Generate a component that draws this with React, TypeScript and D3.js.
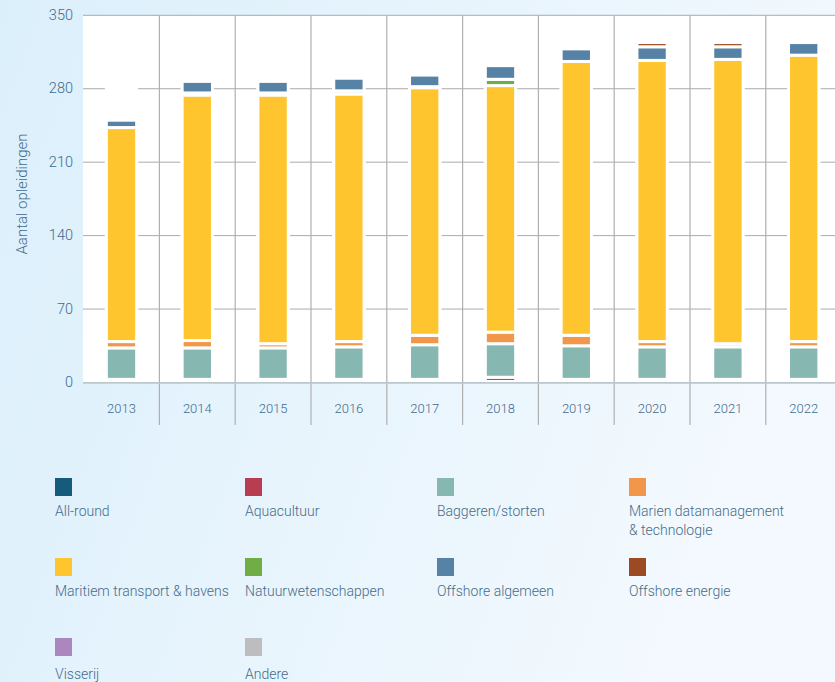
import React from 'react';
import * as d3 from 'd3';

const years = ['2013', '2014', '2015', '2016', '2017', '2018', '2019', '2020', '2021', '2022'];
const seriesNames = [
  'All-round',
  'Aquacultuur',
  'Baggeren/storten',
  'Marien datamanagement & technologie',
  'Maritiem transport & havens',
  'Natuurwetenschappen',
  'Offshore algemeen',
  'Offshore energie',
  'Visserij',
  'Andere',
];
const legendLines = [
  ['All-round'],
  ['Aquacultuur'],
  ['Baggeren/storten'],
  ['Marien datamanagement', '& technologie'],
  ['Maritiem transport & havens'],
  ['Natuurwetenschappen'],
  ['Offshore algemeen'],
  ['Offshore energie'],
  ['Visserij'],
  ['Andere'],
];
const seriesColors = [
  '#175b7a',
  '#b83d50',
  '#86b7b0',
  '#f2964c',
  '#fec52f',
  '#70ae45',
  '#5682a6',
  '#9b4a23',
  '#ac87bf',
  '#bdbdbf',
];

const allRound = [3, 3, 3, 3, 3, 1, 3, 3, 3, 3];
const aquacultuur = [0, 0, 0, 0, 0, 4, 0, 0, 0, 0];
const baggeren = [30, 30, 30, 31, 33, 32, 32, 31, 31, 31];
const marien = [6, 7, 4, 5, 9, 11, 10, 5, 3, 5];
const maritiem = [204, 234, 237, 236, 236, 235, 261, 268, 271, 273];
const natuur = [0, 2, 2, 3, 1, 6, 0, 0, 0, 0];
const offshoreAlgemeen = [7, 11, 11, 12, 11, 13, 12, 13, 12, 12];
const offshoreEnergie = [0, 0, 0, 0, 0, 0, 0, 4, 4, 0];
const visserij = [0, 0, 0, 0, 0, 0, 0, 0, 0, 0];
const andere = [0, 0, 0, 0, 0, 0, 0, 0, 0, 0];

const yTicks = [0, 70, 140, 210, 280, 350];

const W = 835;
const H = 682;
const plotLeft = 83;
const plotTop = 15.3;
const plotBottom = 382.5;

export default function App() {
  const seriesValues = [
    allRound, aquacultuur, baggeren, marien, maritiem,
    natuur, offshoreAlgemeen, offshoreEnergie, visserij, andere,
  ];
  const rows = years.map((yr, i) => {
    const r: any = { year: yr };
    seriesNames.forEach((s, k) => { r[s] = seriesValues[k][i]; });
    return r;
  });
  const stacked = d3.stack<any>().keys(seriesNames)(rows);

  const x = d3.scaleBand<string>().domain(years).range([83.6, 841.6]).paddingInner(0.6).paddingOuter(0.3);
  const band = d3.scaleBand<string>().domain(years).range([83.6, 841.6]);
  const y = d3.scaleLinear().domain([0, 350]).range([plotBottom, plotTop]);

  const tickColor = '#3f6b8e';
  const font = 'Roboto, "Noto Sans", sans-serif';

  const legendCols = [55, 245, 437, 629];
  const legendRows = [478, 558, 638];
  const legendTextOffset = [33, 33, 36];

  return (
    <div style={{ position: 'absolute', left: 0, top: 0, width: W, height: H }}>
      <svg width={W} height={H} style={{ display: 'block' }}>
        <defs>
          <linearGradient id="bg" x1="0" y1="0" x2="1" y2="0.3">
            <stop offset="0" stopColor="#dbeffb" />
            <stop offset="1" stopColor="#f3f9fe" />
          </linearGradient>
        </defs>
        <rect x={0} y={0} width={W} height={H} fill="url(#bg)" />
        {/* plot area */}
        <rect x={plotLeft} y={plotTop} width={W - plotLeft} height={plotBottom - plotTop} fill="#ffffff" />

        {/* horizontal gridlines */}
        {yTicks.filter(t => t !== 0 && t !== 350).map(t => (
          <line key={'g' + t} x1={plotLeft} x2={W} y1={y(t)} y2={y(t)} stroke="#ababab" strokeWidth={1} />
        ))}
        {/* white column bands behind bars */}
        {years.map(yr => (
          <rect key={'c' + yr} x={(x(yr) as number) - 1.5} width={x.bandwidth() + 3}
            y={y(350) + 1} height={y(0) - y(350) - 1} fill="#ffffff" />
        ))}
        <line x1={plotLeft} x2={W} y1={y(350)} y2={y(350)} stroke="#ababab" strokeWidth={1} />

        {/* vertical gridlines */}
        {years.slice(1).map(yr => (
          <line key={'v' + yr} x1={band(yr) as number} x2={band(yr) as number} y1={plotTop} y2={425}
            stroke="#b0b0b0" strokeWidth={1.2} />
        ))}

        {/* bars */}
        {stacked.map((s, k) => (
          <g key={s.key} fill={seriesColors[k]}>
            {s.map((d, i) => {
              const h = y(d[0]) - y(d[1]);
              if (h <= 0) return null;
              return (
                <rect key={i} x={x(years[i]) as number} width={x.bandwidth()}
                  y={y(d[1])} height={h} stroke="#ffffff" strokeWidth={3} />
              );
            })}
          </g>
        ))}

        {/* baseline */}
        <line x1={plotLeft} x2={W} y1={y(0) + 0.3} y2={y(0) + 0.3} stroke="#bcc6cd" strokeWidth={1.8} />

        {/* y ticks */}
        {yTicks.map(t => (
          <text key={'yt' + t} x={73} y={y(t)} textAnchor="end" dominantBaseline="central"
            fontFamily={font} fontWeight={300} fontSize={14.5} fill={tickColor}>{t}</text>
        ))}
        {/* x ticks */}
        {years.map(yr => (
          <text key={'xt' + yr} x={(band(yr) as number) + band.bandwidth() / 2} y={408}
            textAnchor="middle" dominantBaseline="central"
            fontFamily={font} fontWeight={300} fontSize={13} fill={tickColor}>{yr}</text>
        ))}
        {/* y axis title */}
        <text transform={`translate(22, 194) rotate(-90)`} textAnchor="middle" dominantBaseline="central"
          fontFamily={font} fontWeight={300} fontSize={15} fill={tickColor}>Aantal opleidingen</text>

        {/* legend */}
        {seriesNames.map((s, k) => {
          const cx = legendCols[k % 4];
          const row = Math.floor(k / 4);
          const ry = legendRows[row];
          return (
            <g key={'l' + s}>
              <rect x={cx} y={ry} width={17} height={18} fill={seriesColors[k]} />
              {legendLines[k].map((ln, j) => (
                <text key={j} x={cx} y={ry + legendTextOffset[row] + j * 19} dominantBaseline="central"
                  fontFamily={font} fontWeight={300} fontSize={14} fill="#456c8a">{ln}</text>
              ))}
            </g>
          );
        })}
      </svg>
    </div>
  );
}
